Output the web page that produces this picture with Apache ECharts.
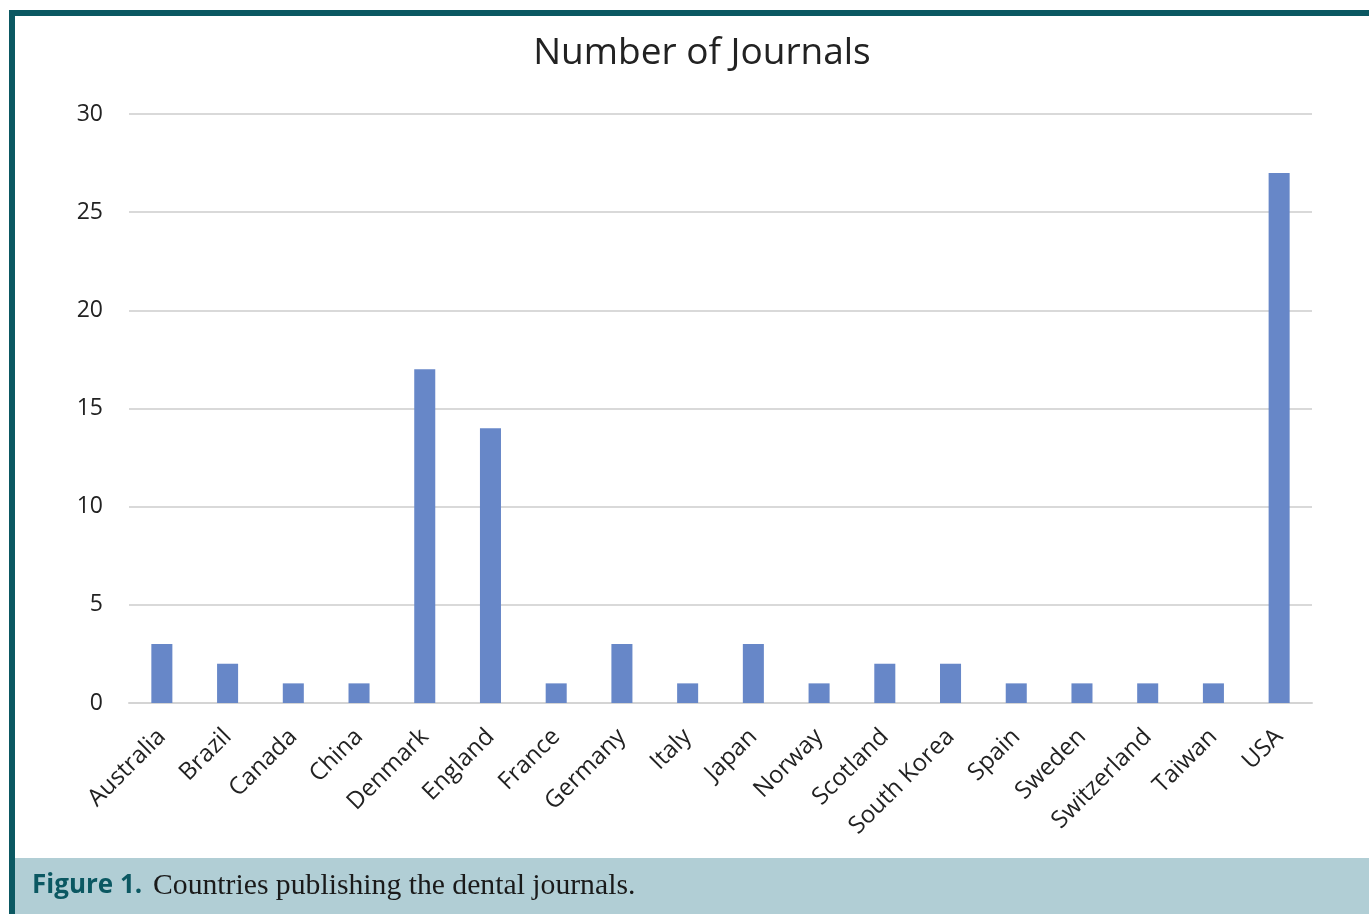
<!DOCTYPE html>
<html>
<head>
<meta charset="utf-8">
<script src="https://cdn.jsdelivr.net/npm/echarts@6/dist/echarts.min.js"></script>
<style>
html,body{margin:0;padding:0;background:#fff;}
#chart{width:1369px;height:914px;}
</style>
</head>
<body>
<div id="chart"></div>
<script>
var categories = ["Australia","Brazil","Canada","China","Denmark","England","France","Germany","Italy","Japan","Norway","Scotland","South Korea","Spain","Sweden","Switzerland","Taiwan","USA"];
var journals = [3,2,1,1,17,14,1,3,1,3,1,2,2,1,1,1,1,27];
var yTicks = [0,5,10,15,20,25,30];

var chart = echarts.init(document.getElementById('chart'), null, {renderer:'canvas'});
chart.setOption({
  backgroundColor:'#ffffff',
  animation:false,
  title:{
    text:'Number of Journals',
    left:697, top:30, textAlign:'center',
    textStyle:{fontFamily:'Open Sans', fontSize:37, fontWeight:'normal', color:'#222222'}
  },
  grid:{left:129, right:57, top:114, bottom:211, containLabel:false},
  xAxis:{
    type:'category',
    data:categories,
    axisLine:{lineStyle:{color:'#d4d4d4', width:2}},
    axisTick:{show:false},
    axisLabel:{rotate:45, margin:30, fontFamily:'Open Sans', fontSize:24, color:'#222222', interval:0}
  },
  yAxis:{
    type:'value',
    min:yTicks[0], max:yTicks[yTicks.length-1], interval:5,
    axisLine:{show:false},
    axisTick:{show:false},
    splitLine:{lineStyle:{color:'#d9d9d9', width:2}},
    axisLabel:{margin:26, fontFamily:'Open Sans', fontSize:23, color:'#222222'}
  },
  series:[{
    type:'bar',
    data:journals,
    barWidth:'32%',
    itemStyle:{color:'#6787c8'}
  }],
  graphic:[
    {type:'rect', shape:{x:9, y:10, width:1360, height:6}, style:{fill:'#0b5862'}, z:100},
    {type:'rect', shape:{x:9, y:10, width:6, height:904}, style:{fill:'#0b5862'}, z:100},
    {type:'rect', shape:{x:15, y:858, width:1354, height:56}, style:{fill:'#b1ced5'}, z:99},
    {type:'text', x:32, y:886, z:101,
      style:{
        text:'{b|Figure 1.}{r|Countries publishing the dental journals.}',
        verticalAlign:'middle',
        rich:{
          b:{fontFamily:'Open Sans', fontWeight:'bold', fontSize:26, fill:'#0b5862', color:'#0b5862', width:121},
          r:{fontFamily:'Liberation Serif', fontSize:29.7, fill:'#1a1a1a', color:'#1a1a1a'}
        }
      }
    }
  ]
});
</script>
</body>
</html>
